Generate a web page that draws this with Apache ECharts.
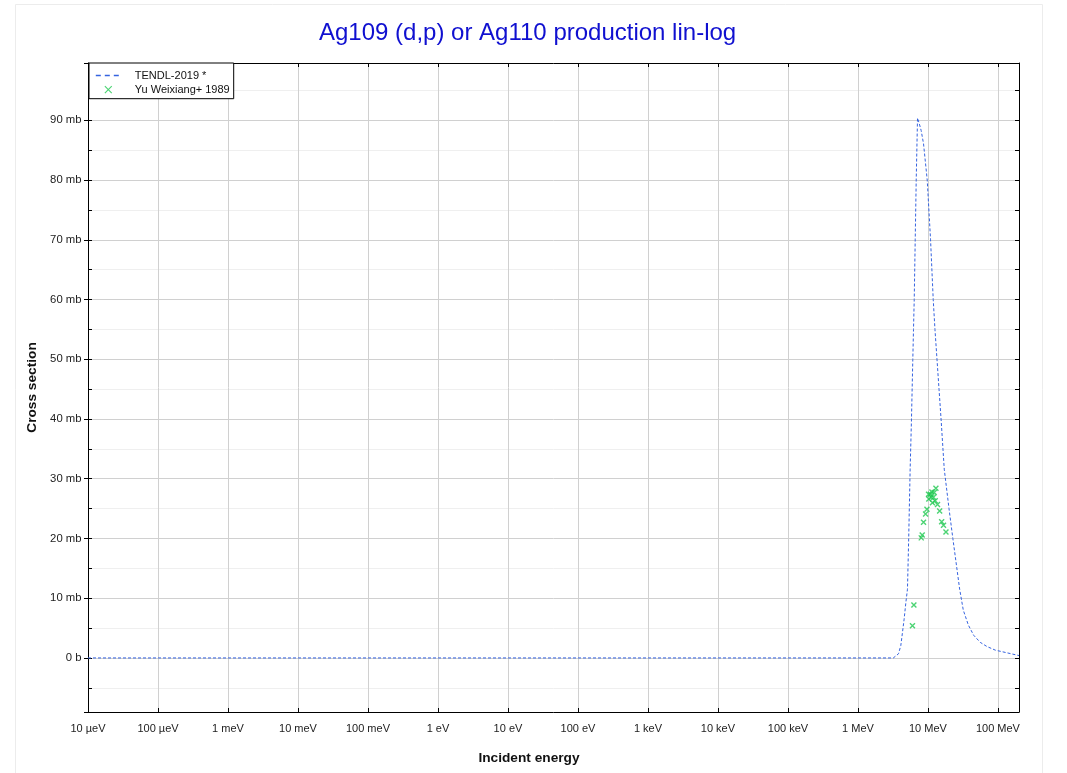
<!DOCTYPE html>
<html><head><meta charset="utf-8">
<script src="https://cdn.jsdelivr.net/npm/echarts@6/dist/echarts.min.js"></script>
<style>html,body{margin:0;padding:0;background:#fff}#c{width:1067px;height:773px}</style>
</head><body><div id="c"></div>
<script>
const titleText = 'Ag109 (d,p) or Ag110 production lin-log';
const xTickLabels = ['10 µeV','100 µeV','1 meV','10 meV','100 meV','1 eV','10 eV','100 eV','1 keV','10 keV','100 keV','1 MeV','10 MeV','100 MeV'];
const xFirstExponent = -5;
const seriesNames = ['TENDL-2019 *', 'Yu Weixiang+ 1989'];

// TENDL-2019 evaluated curve: incident energy (eV), cross section (mb)
const tendlE = [1e-5, 3.2e6, 3.8e6, 4.1e6, 4.33e6, 4.57e6, 4.84e6, 5.1e6, 5.31e6, 5.57e6, 5.82e6, 6.08e6, 6.22e6, 6.37e6, 6.58e6, 6.8e6, 7.1e6, 7.5e6, 8.0e6, 8.65e6, 9.77e6, 10.9e6, 11.9e6, 12.6e6, 14.4e6, 15.4e6, 17.1e6, 20.0e6, 22.7e6, 28.4e6, 32e6, 37.8e6, 45e6, 56e6, 70e6, 92e6, 130e6, 200e6];
const tendlXS = [0, 0, 0.7, 2.1, 4.3, 6.5, 9.3, 11.5, 20, 31.6, 40, 50, 55, 60, 70, 80, 90.4, 89.5, 88.3, 86.1, 80, 70, 60, 55, 45, 40, 31.6, 25, 20, 11.5, 8, 5.5, 3.8, 2.6, 1.9, 1.3, 0.9, 0.4];

// Yu Weixiang+ 1989 measurement: incident energy (eV), cross section (mb)
const expE = [6.01e6, 6.30e6, 8.02e6, 8.28e6, 8.65e6, 9.25e6, 9.68e6, 10.2e6, 10.3e6, 10.8e6, 11.1e6, 11.4e6, 11.6e6, 12.0e6, 12.3e6, 12.7e6, 13.0e6, 13.7e6, 14.7e6, 15.7e6, 16.7e6, 18.1e6];
const expXS = [5.4, 8.86, 20.1, 20.6, 22.7, 24.1, 24.9, 27.4, 26.6, 27.4, 26.9, 27.8, 26.0, 26.9, 27.7, 26.3, 28.4, 25.7, 24.6, 22.8, 22.2, 21.1];

const yMin = -9.05, yMax = 99.6;
const xMin = 1e-5, xMax = 2e8;

const FONT = "'Liberation Sans', Arial, Helvetica, sans-serif";
const blue = '#3563e0', green = '#1fc850';
const xSymbol = 'path://M0,0L10,10M10,0L0,10';

function xLabel(v) {
  const e = Math.log10(v), r = Math.round(e);
  if (Math.abs(e - r) > 1e-6) return '';
  return xTickLabels[r - xFirstExponent] || '';
}
function yLabel(v) {
  const r = Math.round(v);
  if (Math.abs(v - r) > 1e-6 || r % 10 !== 0) return '';
  return r === 0 ? '0 b' : r + ' mb';
}

const chart = echarts.init(document.getElementById('c'), null, {renderer: 'canvas'});
const axisLineBlack = {show: true, onZero: false, lineStyle: {color: '#000', width: 1}};
chart.setOption({
  animation: false,
  backgroundColor: '#fff',
  title: {text: titleText, left: 319, top: 21, padding: 0,
    textStyle: {fontSize: 24, fontWeight: 'normal', color: '#1010d0', fontFamily: FONT}},
  graphic: [{type: 'rect', silent: true, z: -10,
    shape: {x: 15.5, y: 4.5, width: 1027, height: 820},
    style: {fill: 'none', stroke: '#ececec', lineWidth: 1}}],
  grid: {left: 88, right: 48, top: 63, bottom: 61, containLabel: false},
  legend: {
    orient: 'vertical', left: 89, top: 63, padding: [7, 4, 3, 6], itemGap: 2.6,
    itemWidth: 25, itemHeight: 11, borderColor: '#000', borderWidth: 1, backgroundColor: '#fff',
    lineStyle: {width: 1.6, type: [5, 4]},
    textStyle: {fontSize: 11, fontFamily: FONT, color: '#111', padding: [0, 0, 0, 9]},
    data: [
      {name: seriesNames[0], lineStyle: {width: 1.6, type: [5, 4], color: blue}, itemStyle: {opacity: 0}},
      {name: seriesNames[1], icon: 'path://M-3,-3M13,13M0,0L10,10M10,0L0,10', itemStyle: {borderWidth: 1.1}}
    ]
  },
  xAxis: [
    {type: 'log', logBase: 10, min: xMin, max: xMax, interval: 1, position: 'bottom',
      axisLine: axisLineBlack,
      axisTick: {show: true, inside: true, length: 4, lineStyle: {color: '#000'}},
      axisLabel: {formatter: xLabel, fontSize: 11, fontFamily: FONT, color: '#222', margin: 11, hideOverlap: false, interval: 0},
      splitLine: {show: true, lineStyle: {color: '#d0d0d0', width: 1}},
      minorTick: {show: false}, minorSplitLine: {show: false},
      name: 'Incident energy', nameLocation: 'middle', nameGap: 39,
      nameTextStyle: {fontSize: 13.7, fontWeight: 'bold', fontFamily: FONT, color: '#111', padding: [0, 49, 0, 0]}},
    {type: 'log', logBase: 10, min: xMin, max: xMax, interval: 1, position: 'top',
      axisLine: axisLineBlack,
      axisTick: {show: true, inside: true, length: 4, lineStyle: {color: '#000'}},
      axisLabel: {show: false}, splitLine: {show: false}}
  ],
  yAxis: [
    {type: 'value', min: yMin, max: yMax, splitNumber: 20, position: 'left',
      axisLine: axisLineBlack,
      axisTick: {show: true, inside: true, length: 4, lineStyle: {color: '#000'}},
      axisLabel: {show: false},
      splitLine: {show: true, lineStyle: {color: ['#d0d0d0', '#efefef'], width: 1}}},
    {type: 'value', min: yMin, max: yMax, splitNumber: 10, position: 'left',
      axisLine: axisLineBlack,
      axisTick: {show: true, inside: false, length: 4, lineStyle: {color: '#000'}},
      axisLabel: {formatter: yLabel, fontSize: 11.3, fontFamily: FONT, color: '#222', margin: 6.5},
      splitLine: {show: false},
      name: 'Cross section', nameLocation: 'middle', nameGap: 48,
      nameTextStyle: {fontSize: 13.7, fontWeight: 'bold', fontFamily: FONT, color: '#111'}},
    {type: 'value', min: yMin, max: yMax, splitNumber: 20, position: 'right',
      axisLine: axisLineBlack,
      axisTick: {show: true, inside: true, length: 4, lineStyle: {color: '#000'}},
      axisLabel: {show: false}, splitLine: {show: false}}
  ],
  series: [
    {name: seriesNames[0], type: 'line', xAxisIndex: 0, yAxisIndex: 0,
      data: tendlE.map((e, i) => [e, tendlXS[i]]),
      symbol: 'none', smooth: false, z: 3,
      lineStyle: {color: blue, width: 1, type: [3, 2]}, itemStyle: {color: blue}},
    {name: seriesNames[1], type: 'scatter', xAxisIndex: 0, yAxisIndex: 0,
      data: expE.map((e, i) => [e, expXS[i]]),
      symbol: xSymbol, symbolSize: 5, z: 4,
      itemStyle: {color: green, borderColor: green, borderWidth: 1.4}}
  ]
});
</script></body></html>
